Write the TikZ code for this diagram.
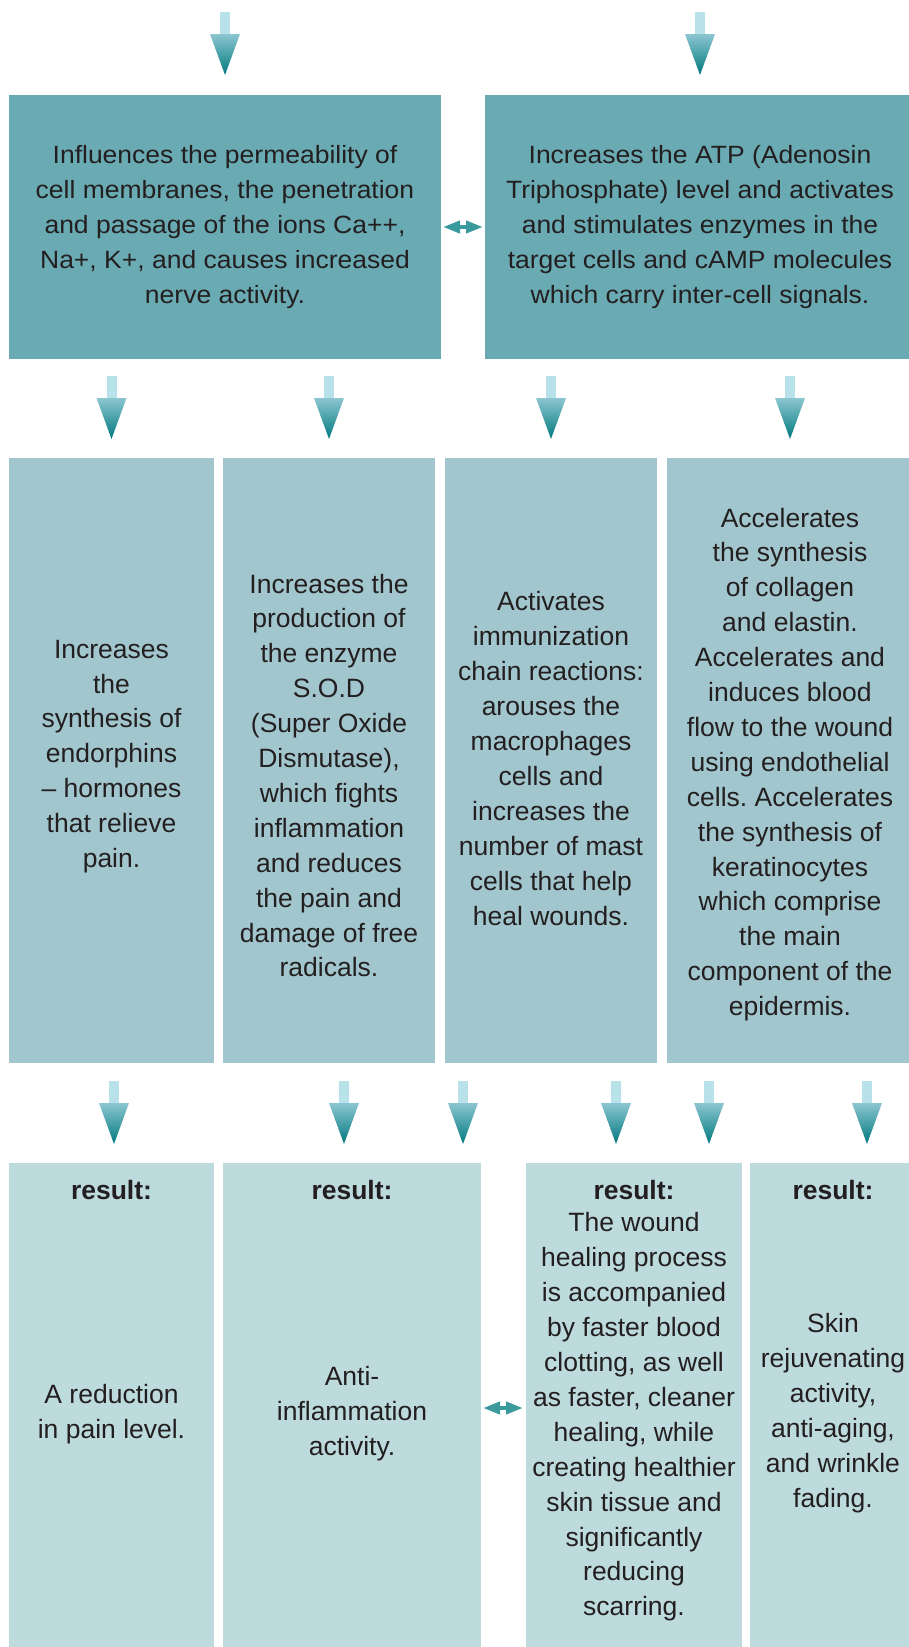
\documentclass[tikz,border=0pt]{standalone}
\usepackage{fontspec}
\setmainfont{Liberation Sans}
\newfontfamily\topfont[FakeStretch=1.06]{Liberation Sans}
\usetikzlibrary{arrows.meta}
\definecolor{topfill}{HTML}{69AAB3}
\definecolor{midfill}{HTML}{A2C6CD}
\definecolor{resfill}{HTML}{BDDADD}
\definecolor{txt}{HTML}{231F20}
\definecolor{shaft}{HTML}{B9E1EA}
\definecolor{headtop}{HTML}{8CC6D0}
\definecolor{headtip}{HTML}{00797E}
\definecolor{dbl}{HTML}{3A9A9E}
\frenchspacing

\begin{document}
\begin{tikzpicture}[x=1pt,y=-1pt,
    box/.style={inner sep=0pt,outer sep=0pt,text=txt,align=center,font=\fontsize{26.5}{34.9}\selectfont},
    topbox/.style={box,fill=topfill,minimum height=264pt,font=\topfont\fontsize{25}{35.2}\selectfont},
    midbox/.style={box,fill=midfill,minimum height=605pt},
    resbox/.style={box,fill=resfill,minimum height=496pt},
    reshead/.style={box,anchor=base,font=\bfseries\fontsize{26.5}{34.9}\selectfont},
    twoway/.style={draw=dbl,line width=4pt,shorten <=2pt,shorten >=2pt,
      {Triangle[width=12pt,length=17pt]}-{Triangle[width=12pt,length=17pt]}},
    blockarrow/.pic={
      \fill[shaft] (-5pt,41pt) rectangle (5pt,63pt);
      \shade[top color=headtop,bottom color=headtip] (-15pt,41pt) -- (15pt,41pt) -- (0pt,0pt) -- cycle;
    }]
  \useasboundingbox (0,0) rectangle (909,1647);

  \node[topbox,minimum width=432pt] (perm) at (225,227) {Influences the permeability of\\cell membranes, the penetration\\and passage of the ions Ca++,\\Na+, K+, and causes increased\\nerve activity.};
  \node[topbox,minimum width=430pt] (atp) at (700,227) {Increases the ATP (Adenosin\\Triphosphate) level and activates\\and stimulates enzymes in the\\target cells and cAMP molecules\\which carry inter-cell signals.};
  \draw[twoway] (perm.east) -- (atp.west);
  \pic at ([yshift=20pt]perm.north) {blockarrow};
  \pic at ([yshift=20pt]atp.north) {blockarrow};

  \node[midbox,minimum width=205pt] (endo) at (111.5,760.5) {};
  \node[midbox,minimum width=212pt] (sod) at (329,760.5) {};
  \node[midbox,minimum width=212pt] (imm) at (551,760.5) {};
  \node[midbox,minimum width=246pt] (coll) at (790,760.5) {};
  \node[box] (endotxt) at ([yshift=4pt]endo.center) {Increases\\the\\synthesis of\\endorphins\\– hormones\\that relieve\\pain.};
  \node[box] (sodtxt) at ([yshift=-15pt]sod.center) {Increases the\\production of\\the enzyme\\S.O.D\\(Super Oxide\\Dismutase),\\which fights\\inflammation\\and reduces\\the pain and\\damage of free\\radicals.};
  \node[box] (immtxt) at ([yshift=2pt]imm.center) {Activates\\immunization\\chain reactions:\\arouses the\\macrophages\\cells and\\increases the\\number of mast\\cells that help\\heal wounds.};
  \node[box] (colltxt) at ([yshift=-4pt]coll.center) {Accelerates\\the synthesis\\of collagen\\and elastin.\\Accelerates and\\induces blood\\flow to the wound\\using endothelial\\cells. Accelerates\\the synthesis of\\keratinocytes\\which comprise\\the main\\component of the\\epidermis.};
  \foreach \n in {endo,sod,imm,coll}
    \pic at ([yshift=19pt]\n.north) {blockarrow};

  \node[resbox,minimum width=205pt] (pain) at (111.5,1411) {};
  \node[resbox,minimum width=258pt] (anti) at (352,1411) {};
  \node[resbox,minimum width=216pt] (heal) at (634,1411) {};
  \node[resbox,minimum width=166pt] (skin) at (833,1411) {};
  \node[box] (paintxt) at ([yshift=-3pt]pain.center) {A reduction\\in pain level.};
  \node[box] (antitxt) at ([yshift=-3pt]anti.center) {Anti-\\inflammation\\activity.};
  \node[box] (healtxt) at ([yshift=-6pt]heal.center) {The wound\\healing process\\is accompanied\\by faster blood\\clotting, as well\\as faster, cleaner\\healing, while\\creating healthier\\skin tissue and\\significantly\\reducing\\scarring.};
  \node[box] (skintxt) at ([yshift=-2pt]skin.center) {Skin\\rejuvenating\\activity,\\anti-aging,\\and wrinkle\\fading.};
  \foreach \n in {pain,anti,heal,skin}
    \node[reshead] (\n head) at ([yshift=-36pt]\n.north) {result:};
  \draw[twoway,shorten >=3pt] ([yshift=3pt]anti.east) -- ([yshift=3pt]heal.west);
  \foreach \x in {114,344,463,616,709,867}
    \pic at (\x,1144) {blockarrow};
\end{tikzpicture}
\end{document}
